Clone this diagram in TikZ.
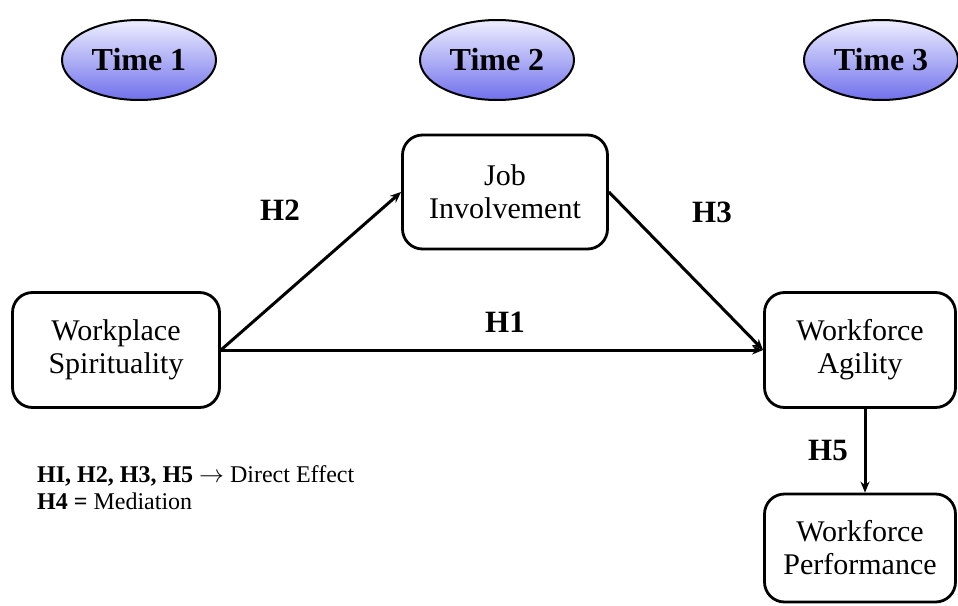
\documentclass[tikz,border=0pt]{standalone}
\usepackage{fontspec}
\setmainfont{Liberation Serif}
\usetikzlibrary{shapes.geometric,arrows.meta}

\begin{document}
\begin{tikzpicture}[x=1pt,y=-1pt,
		timebox/.style={ellipse,draw,line width=2pt,minimum width=154pt,minimum height=80pt,inner sep=0pt,
			top color={rgb,255:red,238;green,238;blue,255},bottom color={rgb,255:red,112;green,112;blue,236},
			font=\fontsize{32}{34}\selectfont\bfseries},
		varbox/.style={draw,line width=2.8pt,rounded corners=20pt,align=center,inner sep=0pt,
			font=\fontsize{30}{33}\selectfont},
		hyp/.style={font=\fontsize{31}{34}\selectfont\bfseries},
		path/.style={line width=3pt,-{Stealth[length=11pt,width=9pt]}}]
		\useasboundingbox (0,0) rectangle (958,605);
		% time points
		\node[timebox](t1) at (139,60) {Time 1};
		\node[timebox](t2) at (497,60) {Time 2};
		\node[timebox](t3) at (881,60) {Time 3};
		% variables
		\node[varbox,minimum width=207pt,minimum height=115pt](ws) at (116,350) {Workplace\\Spirituality};
		\node[varbox,minimum width=205pt,minimum height=114pt](ji) at (505,192) {Job\\Involvement};
		\node[varbox,minimum width=191pt,minimum height=115pt](wa) at (860,350) {Workforce\\Agility};
		\node[varbox,minimum width=191pt,minimum height=108pt](wp) at (860,548) {Workforce\\Performance};
		% paths
		\draw[path] (ws.east) -- (ji.west);
		\draw[path] (ji.east) -- (wa.west);
		\draw[path] (ws.east) -- (wa.west);
		\draw[path] ([xshift=5pt]wa.south) -- ([xshift=5pt]wp.north);
		\node[hyp](h1) at (505,322) {H1};
		\node[hyp](h2) at (280,210) {H2};
		\node[hyp](h3) at (712,212) {H3};
		\node[hyp](h5) at (828,450) {H5};
		% legend
		\node[anchor=north west,align=left,inner sep=0pt,font=\fontsize{24}{27}\selectfont](leg) at (37,465)
			{\textbf{HI, H2, H3, H5} $\rightarrow$ Direct Effect\\\textbf{H4 =} Mediation};
	\end{tikzpicture}
\end{document}
